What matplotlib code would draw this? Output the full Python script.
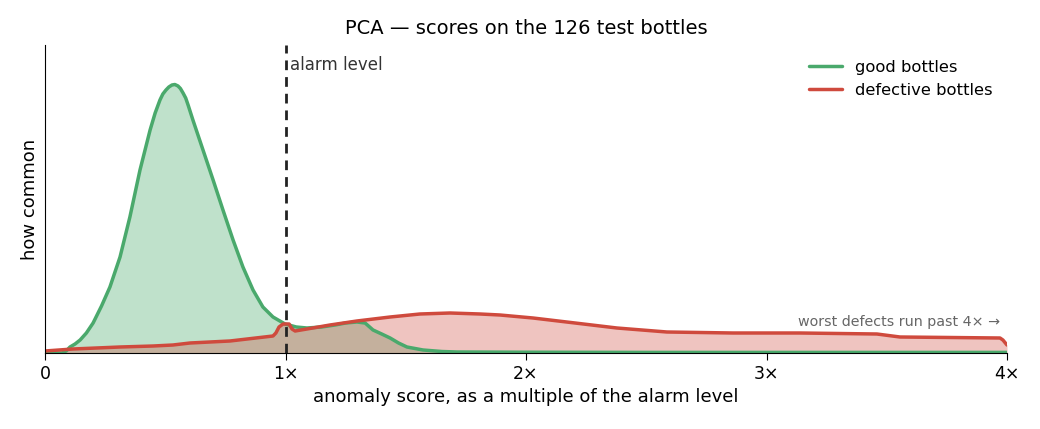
import matplotlib
matplotlib.use("Agg")
import matplotlib.pyplot as plt

# --- data (x = multiple of alarm level, y = density, arbitrary units)
good_x = [0.0, 0.071, 0.088, 0.104, 0.125, 0.146, 0.172, 0.200, 0.235, 0.270, 0.312, 0.353, 0.395,
          0.437, 0.458, 0.478, 0.49, 0.503, 0.515, 0.528, 0.54, 0.553, 0.563, 0.574, 0.585, 0.595,
          0.615, 0.657, 0.699, 0.740, 0.782, 0.823, 0.865, 0.906, 0.948, 0.998, 1.045, 1.089,
          1.15, 1.206, 1.25, 1.297, 1.331, 1.364, 1.40, 1.435, 1.47, 1.505, 1.572, 1.65, 1.713,
          1.975, 2.5, 3.0, 3.5, 4.0]
good_y = [0.0, 0.0, 0.02, 0.06, 0.09, 0.13, 0.20, 0.30, 0.47, 0.66, 0.96, 1.36, 1.83,
          2.23, 2.40, 2.53, 2.59, 2.63, 2.66, 2.68, 2.685, 2.67, 2.645, 2.60, 2.55, 2.48,
          2.33, 2.03, 1.73, 1.43, 1.13, 0.86, 0.63, 0.46, 0.36, 0.29, 0.26, 0.25,
          0.26, 0.28, 0.30, 0.31, 0.30, 0.23, 0.19, 0.15, 0.10, 0.06, 0.03, 0.015, 0.01,
          0.008, 0.006, 0.006, 0.006, 0.006]

bad_x = [0.0, 0.116, 0.312, 0.45, 0.532, 0.603, 0.769, 0.948, 0.960, 0.973, 0.990, 1.015, 1.027,
         1.040, 1.089, 1.185, 1.297, 1.435, 1.559, 1.684, 1.809, 1.892, 2.029, 2.204, 2.378,
         2.586, 2.861, 3.139, 3.459, 3.555, 3.971, 3.983, 4.0]
bad_y = [0.02, 0.04, 0.06, 0.07, 0.08, 0.10, 0.12, 0.17, 0.20, 0.26, 0.29, 0.29, 0.24,
         0.22, 0.24, 0.28, 0.32, 0.36, 0.39, 0.40, 0.39, 0.38, 0.35, 0.30, 0.25,
         0.21, 0.20, 0.20, 0.19, 0.16, 0.15, 0.13, 0.08]

alarm = 1.0
xticks = [0, 1, 2, 3, 4]
xticklabels = ["0", "1×", "2×", "3×", "4×"]

GREEN = "#4aa96c"
RED = "#cf4a3d"

fig = plt.figure(figsize=(10.4, 4.29), dpi=100)
ax = fig.add_axes([45 / 1040, 1 - 353 / 429, 962 / 1040, 308 / 429])

ax.fill_between(good_x, good_y, color=GREEN, alpha=0.35, linewidth=0)
ax.plot(good_x, good_y, color=GREEN, lw=2.5, label="good bottles",
        solid_capstyle="round", solid_joinstyle="round")
ax.fill_between(bad_x, bad_y, color=RED, alpha=0.32, linewidth=0)
ax.plot(bad_x, bad_y, color=RED, lw=2.5, label="defective bottles",
        solid_capstyle="round", solid_joinstyle="round")

ax.axvline(alarm, color="#222222", lw=2, ls=(0, (3.5, 2.5)))
ax.text(alarm + 0.02, 2.88, "alarm level", fontsize=12, color="#333333", va="center", ha="left")
ax.text(3.97, 0.31, "worst defects run past 4× →", fontsize=10.3, color="#666666",
        ha="right", va="center")

ax.set_xlim(0, 4)
ax.set_ylim(0, 3.08)
ax.set_xticks(xticks)
ax.set_xticklabels(xticklabels, fontsize=12.5)
ax.set_yticks([])
ax.spines["top"].set_visible(False)
ax.spines["right"].set_visible(False)
ax.tick_params(axis="x", length=5)
ax.set_xlabel("anomaly score, as a multiple of the alarm level", fontsize=13)
ax.set_ylabel("how common", fontsize=13)
ax.set_title("PCA — scores on the 126 test bottles", fontsize=14, pad=8)
ax.legend(loc="upper right", frameon=False, fontsize=11.8, bbox_to_anchor=(1.0, 1.0))

fig.savefig("out.png", dpi=100)
